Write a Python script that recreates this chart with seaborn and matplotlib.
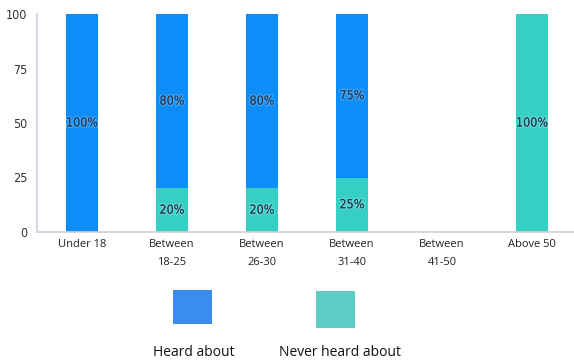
import matplotlib
matplotlib.use("Agg")
import matplotlib.pyplot as plt
import matplotlib.patheffects as pe
from matplotlib.patches import Rectangle
import seaborn as sns
import pandas as pd

# Awareness by age group (percent of respondents)
age_groups = ["Under 18", "Between\n18-25", "Between\n26-30", "Between\n31-40", "Between\n41-50", "Above 50"]
heard_about = [100, 80, 80, 75, 0, 0]
never_heard = [0, 20, 20, 25, 0, 100]
y_ticks = [0, 25, 50, 75, 100]
series_names = ["Heard about", "Never heard about"]

blue = "#0c8df7"
teal = "#35cfc5"
legend_blue = "#3a8cf0"
legend_teal = "#5fcbc5"

sns.set_theme(style="white")
plt.rcParams["font.family"] = ["Open Sans", "DejaVu Sans"]

df = pd.DataFrame({
    "group": age_groups,
    "heard": heard_about,
    "never": never_heard,
})
df["total"] = df["heard"] + df["never"]

fig = plt.figure(figsize=(5.74, 3.62), dpi=100)
ax = fig.add_axes([37 / 574, 130 / 362, 540 / 574, 218 / 362])

# Stacked bars: full height in blue, "never heard" portion overlaid at the bottom
sns.barplot(data=df, x="group", y="total", color=blue, saturation=1, width=0.36, ax=ax)
sns.barplot(data=df, x="group", y="never", color=teal, saturation=1, width=0.36, ax=ax)
for p in ax.patches:
    p.set_linewidth(0)

label_fx = [pe.withStroke(linewidth=2.0, foreground=(1, 1, 1, 0.2))]
label_kw = dict(ha="center", va="center", fontsize=9, color="#1e3552",
                family="DejaVu Sans", fontstretch="condensed", path_effects=label_fx)
for i, (h, n) in enumerate(zip(heard_about, never_heard)):
    if h > 0:
        ax.text(i, n + h / 2, f"{h}%", **label_kw)
    if n > 0:
        ax.text(i, n / 2, f"{n}%", **label_kw)

ax.set_ylim(0, 100)
ax.set_xlim(-0.5, len(age_groups) - 0.5)
ax.set_yticks(y_ticks)
ax.set_yticklabels([str(v) for v in y_ticks], fontsize=9, color="#333333",
                   family="DejaVu Sans", fontstretch="condensed")
ax.set_xticks(range(len(age_groups)))
ax.set_xticklabels(age_groups, fontsize=8, color="#222222", linespacing=1.9)
ax.set_xlabel("")
ax.set_ylabel("")
ax.tick_params(axis="y", length=0, pad=7)
ax.tick_params(axis="x", length=0, pad=5)

# Category separator ticks below the axis line
ax.set_xticks([i - 0.5 for i in range(len(age_groups) + 1)], minor=True)
ax.tick_params(axis="x", which="minor", length=6, width=1, color="#c9d2de", direction="out")

for side in ["top", "right"]:
    ax.spines[side].set_visible(False)
for side in ["left", "bottom"]:
    ax.spines[side].set_color("#c9d2de")
    ax.spines[side].set_linewidth(1.2)

# Legend: swatches above their labels
fig.add_artist(Rectangle((173 / 574, 1 - 324 / 362), 39 / 574, 34 / 362,
                         transform=fig.transFigure, color=legend_blue, lw=0))
fig.add_artist(Rectangle((316 / 574, 1 - 328 / 362), 39 / 574, 37 / 362,
                         transform=fig.transFigure, color=legend_teal, lw=0))
fig.text(194 / 574, 1 - 352 / 362, series_names[0], ha="center", va="center",
         fontsize=10, color="#111111")
fig.text(340 / 574, 1 - 352 / 362, series_names[1], ha="center", va="center",
         fontsize=10, color="#111111")

fig.savefig("out.png", dpi=100)
